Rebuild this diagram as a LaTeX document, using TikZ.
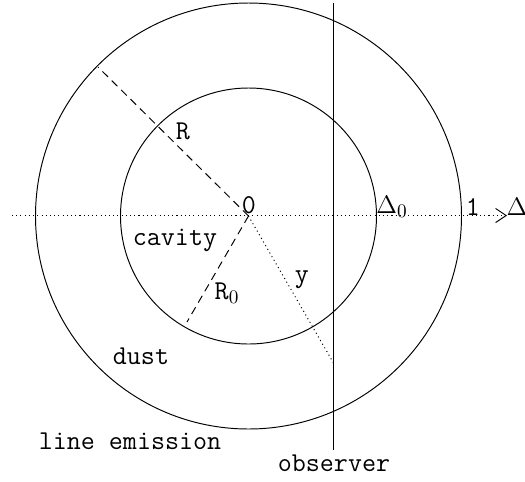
\documentclass[tikz,border=0pt]{standalone}
\usetikzlibrary{arrows.meta}
\begin{document}
\begin{tikzpicture}[x=0.02cm,y=-0.02cm,
  lbl/.style={font=\fontsize{15.5}{18}\selectfont\ttfamily, inner sep=0pt},
  thinline/.style={line width=0.55pt},
  radius line/.style={line width=0.55pt, dash pattern=on 4.5pt off 3pt},
  fine dots/.style={line width=0.55pt, dash pattern=on 0.6pt off 1.8pt}]
\useasboundingbox (0,0) rectangle (525,481);
% geometry
\coordinate (O) at (248.5,216);
\draw[thinline] (O) circle[radius=213];
\draw[thinline] (O) circle[radius=128];
% axis
\coordinate (axL) at (12,215.5);
\coordinate (axR) at (507,215.5);
\draw[fine dots, -{Straight Barb[length=6pt,width=8pt,line width=0.55pt]}] (axL) -- (axR);
% observer line
\coordinate (obsT) at (333.5,3);
\coordinate (obsB) at (333.5,450);
\draw[thinline] (obsT) -- (obsB);
% radii
\coordinate (Rend) at (98,67);
\coordinate (R0end) at (187,322);
\coordinate (yend) at (333.5,363);
\draw[radius line] (O) -- (Rend);
\draw[radius line] (O) -- (R0end);
\draw[fine dots] (O) -- (yend);
% labels
\node[lbl] (zero) at (249,205) {0};
\node[lbl] (Rlab) at (183,131) {R};
\node[lbl] (R0lab) at (227,293) {R$_0$};
\node[lbl] (ylab) at (302,280) {y};
\node[lbl] (cav) at (175,240) {cavity};
\node[lbl] (dust) at (141,356) {dust};
\node[lbl] (lem) at (130,441) {line emission};
\node[lbl] (obs) at (334,463) {observer};
\node[lbl] (D0) at (392,207) {$\Delta_0$};
\node[lbl] (one) at (473,207) {1};
\node[lbl] (Dlab) at (517,207) {$\Delta$};
\end{tikzpicture}
\end{document}
